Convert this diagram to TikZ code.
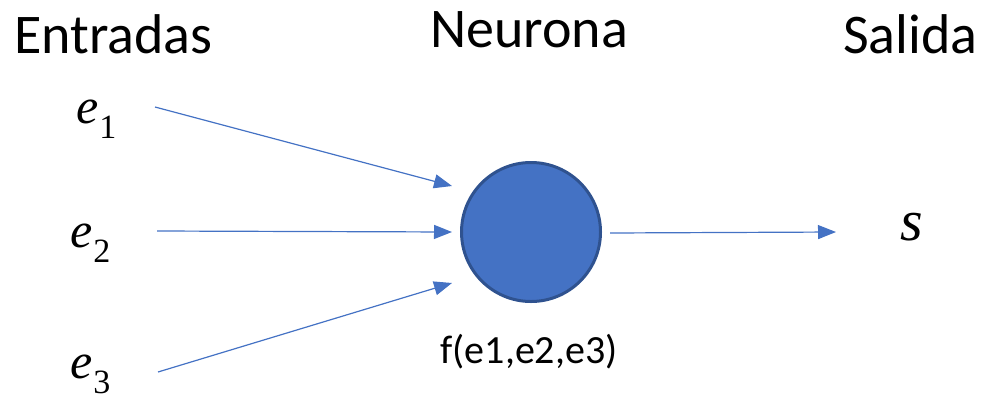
\documentclass[tikz,border=0pt]{standalone}
\usepackage{fontspec}
\setmainfont{Carlito}
\newfontfamily\mfont{Liberation Serif}
\usetikzlibrary{arrows.meta}
\definecolor{nblue}{HTML}{4472C4}
\definecolor{nborder}{HTML}{2F528F}
\newcommand{\invar}[1]{{\mfont\itshape e}\kern1pt\raisebox{-15pt}{\mfont\fontsize{34}{38}\selectfont #1}}
\tikzset{
  title/.style={font=\fontsize{56}{60}\selectfont, anchor=base west, inner sep=0pt},
  inlabel/.style={font=\mfont\fontsize{50}{56}\selectfont, anchor=base west, inner sep=0pt},
  conn/.style={nblue, line width=1.2pt, -{Triangle[length=18pt,width=14pt]}},
}
\begin{document}
\begin{tikzpicture}[x=1pt,y=-1pt]
\useasboundingbox (0,0) rectangle (981,394);
\node[title] (tin) at (14,53) {Entradas};
\node[title] (tneu) at (430,47) {Neurona};
\node[title] (tout) at (843,53) {Salida};
\node[inlabel] (e1) at (76,123) {\invar{1}};
\node[inlabel] (e2) at (70,247) {\invar{2}};
\node[inlabel] (e3) at (70,378) {\invar{3}};
\node[font=\mfont\itshape\fontsize{58}{60}\selectfont, anchor=base west, inner sep=0pt] (s) at (900,240) {s};
\node[circle, fill=nblue, draw=nborder, line width=3pt, minimum size=139pt, inner sep=0pt] (n) at (531,232) {};
\node[font=\fontsize{40}{44}\selectfont, anchor=base, inner sep=0pt] (f) at (529,363) {f(e1,e2,e3)};
\coordinate (a1) at (155,107);
\coordinate (a2) at (157,231);
\coordinate (a3) at (158,372);
\coordinate (h1) at (452,186);
\coordinate (h2) at (452,232);
\coordinate (h3) at (452,283);
\coordinate (o1) at (610,233);
\coordinate (o2) at (836,232);
\draw[conn] (a1) -- (h1);
\draw[conn] (a2) -- (h2);
\draw[conn] (a3) -- (h3);
\draw[conn] (o1) -- (o2);
\end{tikzpicture}
\end{document}
